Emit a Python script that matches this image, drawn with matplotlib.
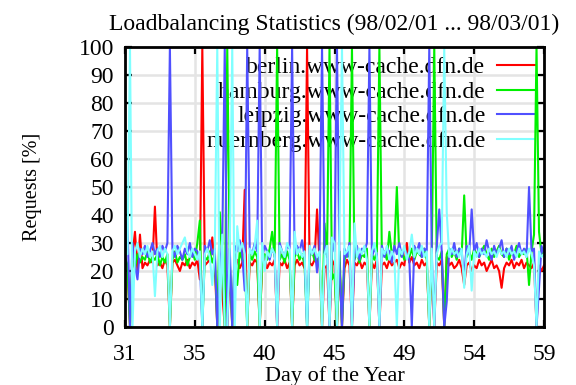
import matplotlib
matplotlib.use("Agg")
import matplotlib.pyplot as plt
import numpy as np

plt.rcParams['font.family'] = ['Liberation Serif', 'DejaVu Serif']

# time axis: day of year, 6 samples per day (4-hour steps), 31 .. 59
start_day = 31
samples_per_day = 6

berlin = [24, 22, 0, 26, 34, 20, 33, 21, 23, 22, 24, 23,
          43, 22, 23, 21, 24, 22, 0, 23, 24, 22, 20, 23,
          22, 24, 21, 23, 22, 24, 17, 100, 22, 23, 24, 32,
          22, 0, 25, 12, 0, 0, 21, 0, 22, 24, 21, 23,
          49, 0, 23, 22, 24, 23, 0, 22, 25, 21, 23, 22,
          24, 0, 23, 22, 24, 21, 23, 0, 22, 24, 22, 23,
          21, 100, 23, 22, 24, 42, 23, 0, 21, 22, 0, 24,
          22, 0, 23, 0, 21, 24, 22, 0, 23, 22, 24, 21,
          23, 22, 0, 23, 21, 24, 0, 22, 23, 21, 24, 22,
          23, 24, 21, 23, 22, 30, 23, 25, 22, 23, 21, 24,
          22, 23, 0, 22, 0, 23, 22, 24, 0, 25, 22, 23,
          21, 22, 24, 21, 15, 22, 23, 20, 22, 21, 24, 22,
          23, 20, 22, 24, 21, 22, 20, 14, 21, 23, 22, 24,
          21, 23, 22, 24, 21, 23, 22, 21, 23, 0, 22, 20,
          22]

hamburg = [25, 22, 0, 24, 21, 26, 23, 25, 24, 27, 23, 25,
           24, 26, 22, 25, 23, 26, 0, 24, 27, 23, 25, 24,
           26, 22, 25, 27, 24, 30, 38, 0, 25, 24, 27, 23,
           26, 0, 41, 25, 0, 100, 24, 0, 26, 15, 27, 24,
           23, 0, 26, 24, 27, 25, 0, 23, 26, 24, 28, 34,
           25, 100, 24, 26, 23, 27, 24, 0, 25, 27, 24, 26,
           22, 0, 25, 27, 24, 23, 26, 0, 37, 25, 100, 17,
           19, 0, 27, 0, 24, 26, 25, 100, 24, 27, 23, 26,
           25, 28, 0, 26, 24, 27, 100, 25, 27, 24, 34, 26,
           28, 50, 25, 27, 24, 26, 25, 28, 24, 27, 26, 25,
           28, 24, 0, 26, 100, 25, 24, 27, 0, 26, 28, 25,
           27, 24, 28, 26, 47, 25, 27, 24, 28, 26, 25, 27,
           29, 26, 24, 28, 25, 27, 29, 26, 25, 28, 24, 27,
           26, 29, 25, 27, 26, 28, 15, 27, 33, 100, 34, 26,
           28]

leipzig = [24, 38, 0, 30, 22, 17, 28, 26, 29, 25, 27, 30,
           26, 28, 25, 29, 27, 30, 100, 28, 25, 29, 27, 24,
           28, 26, 30, 25, 28, 27, 24, 0, 29, 27, 31, 26,
           28, 0, 22, 30, 100, 0, 28, 0, 29, 27, 31, 26,
           13, 100, 28, 26, 30, 27, 100, 25, 29, 27, 24, 28,
           26, 0, 30, 27, 25, 29, 28, 100, 26, 29, 27, 31,
           25, 0, 28, 26, 29, 19.5, 27, 100, 26, 29, 0, 31,
           27, 100, 22, 0, 28, 25, 30, 0, 26, 29, 24, 28,
           27, 30, 100, 25, 28, 26, 0, 29, 25, 28, 27, 23,
           29, 26, 30, 25, 28, 26, 24, 0, 29, 27, 30, 25,
           28, 27, 100, 26, 0, 29, 42, 27, 0, 9, 28, 26,
           30, 25, 28, 27, 18, 29, 26, 42, 27, 30, 25, 28,
           26, 31, 27, 24, 29, 26, 28, 31, 25, 28, 26, 29,
           24, 27, 30, 26, 28, 25, 50, 27, 28, 0, 14, 29,
           26]

nuernberg = [27, 26, 100, 0, 27, 30, 25, 28, 26, 29, 25, 27,
             11, 27, 29, 25, 28, 26, 0, 27, 29, 26, 28, 30,
             32, 27, 25, 28, 26, 24, 27, 0, 26, 28, 25, 15,
             27, 100, 0, 33, 0, 0, 28, 100, 0, 36, 27, 30,
             26, 0, 28, 26, 29, 38, 0, 30, 20, 27, 25, 28,
             26, 0, 29, 27, 25, 30, 28, 0, 34, 26, 28, 25,
             27, 0, 29, 26, 28, 25, 27, 0, 26, 29, 0, 32,
             30, 0, 35, 100, 26, 27, 29, 0, 37, 25, 28, 26,
             29, 24, 0, 27, 30, 25, 0, 28, 26, 29, 24, 27,
             25, 0, 28, 26, 29, 24, 27, 33, 25, 28, 26, 29,
             25, 27, 0, 28, 0, 26, 29, 30, 100, 41, 25, 28,
             26, 27, 25, 28, 14, 26, 29, 13, 27, 25, 28, 26,
             27, 25, 28, 26, 27, 25, 28, 26, 27, 25, 28, 26,
             27, 25, 28, 26, 27, 25, 28, 26, 22, 0, 27, 25,
             26]

series_names = ["berlin.www-cache.dfn.de", "hamburg.www-cache.dfn.de",
                "leipzig.www-cache.dfn.de", "nuernberg.www-cache.dfn.de"]
series_values = [berlin, hamburg, leipzig, nuernberg]
series_colors = ["#ff0000", "#00f000", "#5050ff", "#80ffff"]

xtick_labels = ["31", "35", "40", "45", "49", "54", "59"]
ytick_values = [0, 10, 20, 30, 40, 50, 60, 70, 80, 90, 100]

n = len(berlin)
days = start_day + np.arange(n) / samples_per_day

fig = plt.figure(figsize=(5.76, 3.85), dpi=100)
ax = fig.add_axes([125/576, 1-327/385, (544-125)/576, (327-47)/385])

for vals, name, col in zip(series_values, series_names, series_colors):
    ax.plot(days[:len(vals)], vals, color=col, lw=1.5, label=name, zorder=3)

ax.set_xlim(days[0], days[-1])
ax.set_ylim(0, 100)
xt = np.linspace(days[0], days[-1], len(xtick_labels))
ax.set_xticks(xt)
ax.set_xticklabels(xtick_labels)
ax.set_yticks(ytick_values)

ax.grid(True, color="#e4e4e4", lw=1.8)
ax.set_axisbelow(True)
for s in ax.spines.values():
    s.set_linewidth(2)
    s.set_zorder(5)
ax.tick_params(direction="in", length=5, width=1.6, top=True, right=True,
               labelsize=17, colors="black")
ax.tick_params(axis="y", pad=8)
ax.tick_params(axis="x", pad=12)

ax.set_title("Loadbalancing Statistics (98/02/01 ... 98/03/01)", fontsize=17, pad=12)
ax.set_xlabel("Day of the Year", fontsize=16, labelpad=1)
ax.set_ylabel("Requests [%]", fontsize=14.5, labelpad=26)

leg = ax.legend(loc="upper right", frameon=False, markerfirst=False, fontsize=17,
                handlelength=1.6, handletextpad=0.5, labelspacing=0.13,
                borderaxespad=0.0, borderpad=0.2, bbox_to_anchor=(0.99, 0.982))
leg.set_zorder(1)
for t in leg.get_texts():
    t.set_ha("right")
leg._legend_box.align = "right"

fig.savefig("out.png", dpi=100)
